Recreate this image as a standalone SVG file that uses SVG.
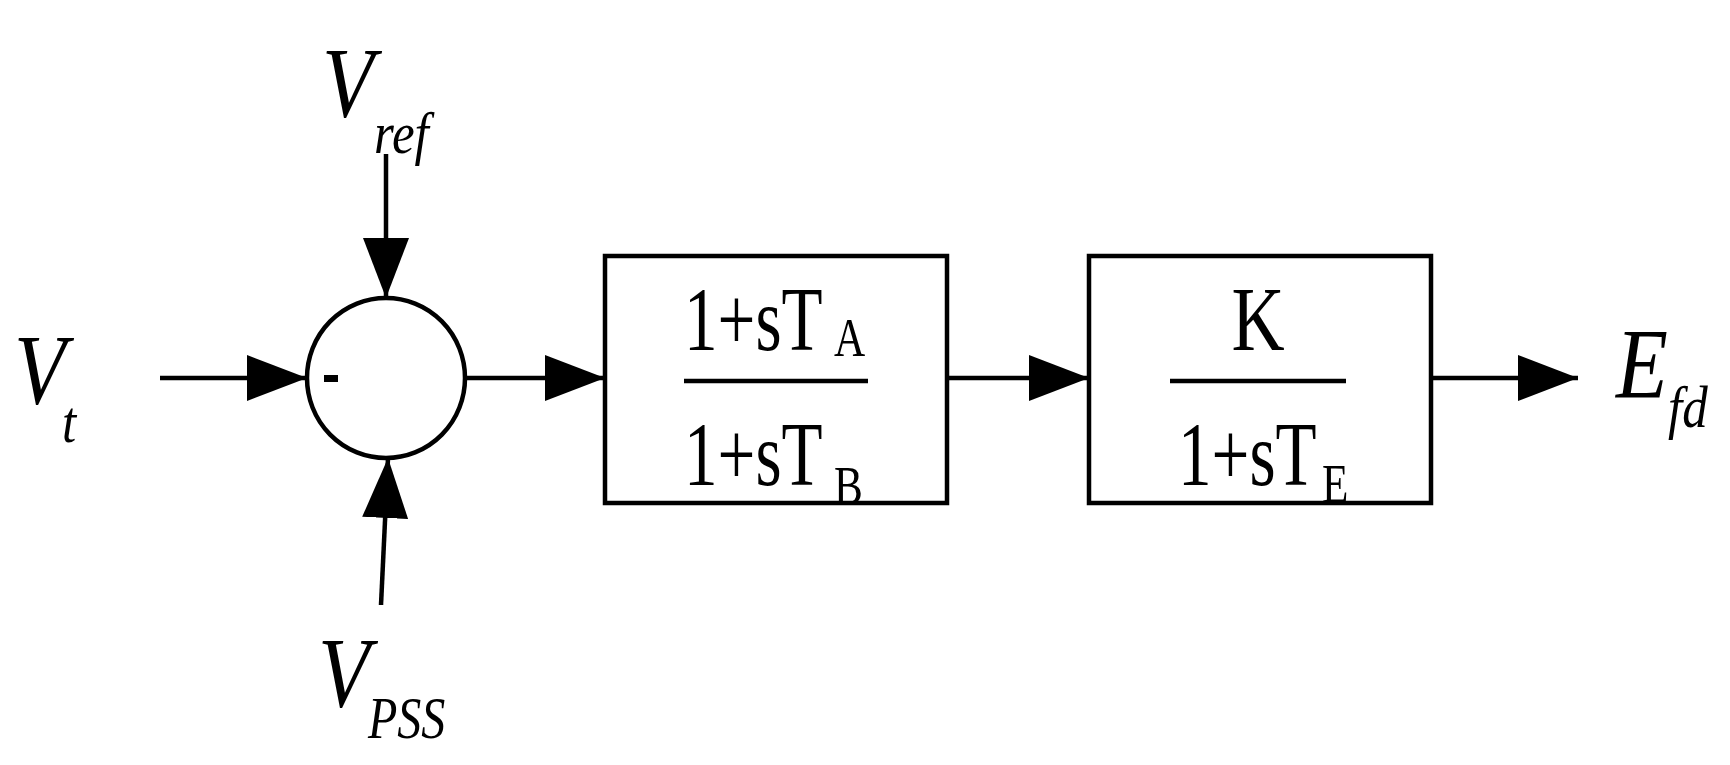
<svg xmlns="http://www.w3.org/2000/svg" width="1730" height="765" viewBox="0 0 1730 765">
<style>
.l{stroke:#000;stroke-width:4.5;fill:none}
.t{font-family:"Liberation Serif",serif;fill:#000}
.i{font-style:italic}
.m{font-size:92px}
.s{font-size:54px}
.L{font-size:100px}
.S{font-size:60px}
</style>
<defs>
<marker id="a" markerWidth="60" markerHeight="46" refX="60" refY="23" markerUnits="userSpaceOnUse" orient="auto"><path d="M0,0L60,23L0,46Z" fill="#000"/></marker>
</defs>
<rect width="1730" height="765" fill="#fff"/>
<g id="sum"><ellipse cx="386" cy="378" rx="79" ry="80" class="l"/><rect x="324" y="375" width="14" height="7" fill="#000"/></g>
<g id="block1"><rect x="605" y="256" width="342" height="247" class="l"/><line x1="684" y1="381" x2="868" y2="381" class="l"/>
<text class="t m" transform="translate(684,350) scale(0.73,1)">1+sT</text>
<text class="t s" transform="translate(834,356) scale(0.8,1)">A</text>
<text class="t m" transform="translate(684,485) scale(0.73,1)">1+sT</text>
<text class="t s" transform="translate(834,504) scale(0.8,1)">B</text></g>
<g id="block2"><rect x="1089" y="256" width="342" height="247" class="l"/><line x1="1170" y1="381" x2="1346" y2="381" class="l"/>
<text class="t m" text-anchor="middle" transform="translate(1258,350) scale(0.8,1)">K</text>
<text class="t m" transform="translate(1178,485) scale(0.73,1)">1+sT</text>
<text class="t s" transform="translate(1322,502) scale(0.8,1)">E</text></g>
<g id="labels">
<text class="t i L" transform="translate(14,403) scale(0.85,1)">V</text>
<text class="t i S" transform="translate(62,442) scale(0.85,1)">t</text>
<text class="t i L" transform="translate(322,116) scale(0.85,1)">V</text>
<text class="t i S" transform="translate(374,153) scale(0.85,1)">ref</text>
<text class="t i L" transform="translate(318,706) scale(0.85,1)">V</text>
<text class="t i S" transform="translate(368,738) scale(0.8,1)">PSS</text>
<text class="t i L" transform="translate(1616,397) scale(0.85,1)">E</text>
<text class="t i S" transform="translate(1668,427) scale(0.85,1)">fd</text>
</g>
<g id="connectors">
<line x1="160" y1="378" x2="307" y2="378" class="l" marker-end="url(#a)"/>
<line x1="466" y1="378" x2="605" y2="378" class="l" marker-end="url(#a)"/>
<line x1="947" y1="378" x2="1089" y2="378" class="l" marker-end="url(#a)"/>
<line x1="1431" y1="378" x2="1578" y2="378" class="l" marker-end="url(#a)"/>
<line x1="386" y1="154" x2="386" y2="298" class="l" marker-end="url(#a)"/>
<line x1="381" y1="605" x2="388" y2="458" class="l" marker-end="url(#a)"/>
</g>
</svg>
